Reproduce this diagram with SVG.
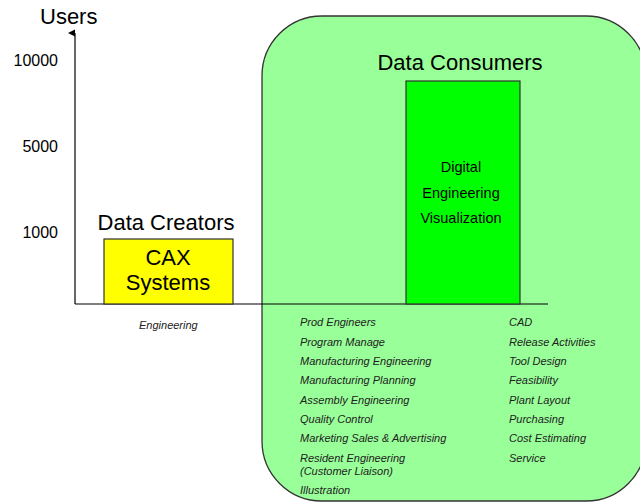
<svg xmlns="http://www.w3.org/2000/svg" width="640" height="502" viewBox="0 0 640 502">
<defs>
<style>
text{font-family:"Liberation Sans",Arial,sans-serif;fill:#000}
.big{font-size:22px}
.tick{font-size:16px;text-anchor:end}
.mid{font-size:14.5px;text-anchor:middle}
.it{font-size:11px;font-style:italic;fill:#222}
.box{stroke:#333;stroke-width:1.2}
</style>
<marker id="arr" markerWidth="8" markerHeight="8" refX="4" refY="7" orient="auto" markerUnits="userSpaceOnUse">
<path d="M0.5,7 L4,0 L7.5,7 Z" fill="#000"/>
</marker>
</defs>
<rect width="640" height="502" fill="#fff"/>
<g id="consumers-region">
<rect x="262" y="16" width="384" height="485" rx="60" ry="60" fill="#99ff99" stroke="#333" stroke-width="1.3"/>
</g>
<g id="axes">
<line x1="75" y1="304" x2="75" y2="33" stroke="#000" stroke-width="1.2" marker-end="url(#arr)"/>
<line x1="75" y1="304" x2="548" y2="304" stroke="#000" stroke-width="1.2"/>
<text x="40" y="24" class="big">Users</text>
<text x="58" y="66" class="tick">10000</text>
<text x="58" y="152" class="tick">5000</text>
<text x="58" y="238" class="tick">1000</text>
</g>
<g id="creators">
<rect x="104" y="239" width="129" height="65" fill="#ffff00" class="box"/>
<text x="166" y="230" class="big" text-anchor="middle">Data Creators</text>
<text x="168" y="265" class="big" text-anchor="middle">CAX</text>
<text x="168" y="290" class="big" text-anchor="middle">Systems</text>
<text x="139" y="329" class="it">Engineering</text>
</g>
<g id="consumers">
<rect x="406" y="81" width="114" height="223" fill="#00ff00" class="box"/>
<text x="460" y="70" class="big" text-anchor="middle">Data Consumers</text>
<text x="461" y="172" class="mid">Digital</text>
<text x="461" y="198" class="mid">Engineering</text>
<text x="461" y="223" class="mid">Visualization</text>
</g>
<g id="consumer-list">
<text x="300" y="326" class="it">Prod Engineers</text>
<text x="300" y="346" class="it">Program Manage</text>
<text x="300" y="365" class="it">Manufacturing Engineering</text>
<text x="300" y="384" class="it">Manufacturing Planning</text>
<text x="300" y="404" class="it">Assembly Engineering</text>
<text x="300" y="423" class="it">Quality Control</text>
<text x="300" y="442" class="it">Marketing Sales &amp; Advertising</text>
<text x="300" y="462" class="it">Resident Engineering</text>
<text x="300" y="475" class="it">(Customer Liaison)</text>
<text x="300" y="494" class="it">Illustration</text>
<text x="509" y="326" class="it">CAD</text>
<text x="509" y="346" class="it">Release Activities</text>
<text x="509" y="365" class="it">Tool Design</text>
<text x="509" y="384" class="it">Feasibility</text>
<text x="509" y="404" class="it">Plant Layout</text>
<text x="509" y="423" class="it">Purchasing</text>
<text x="509" y="442" class="it">Cost Estimating</text>
<text x="509" y="462" class="it">Service</text>
</g>
</svg>
